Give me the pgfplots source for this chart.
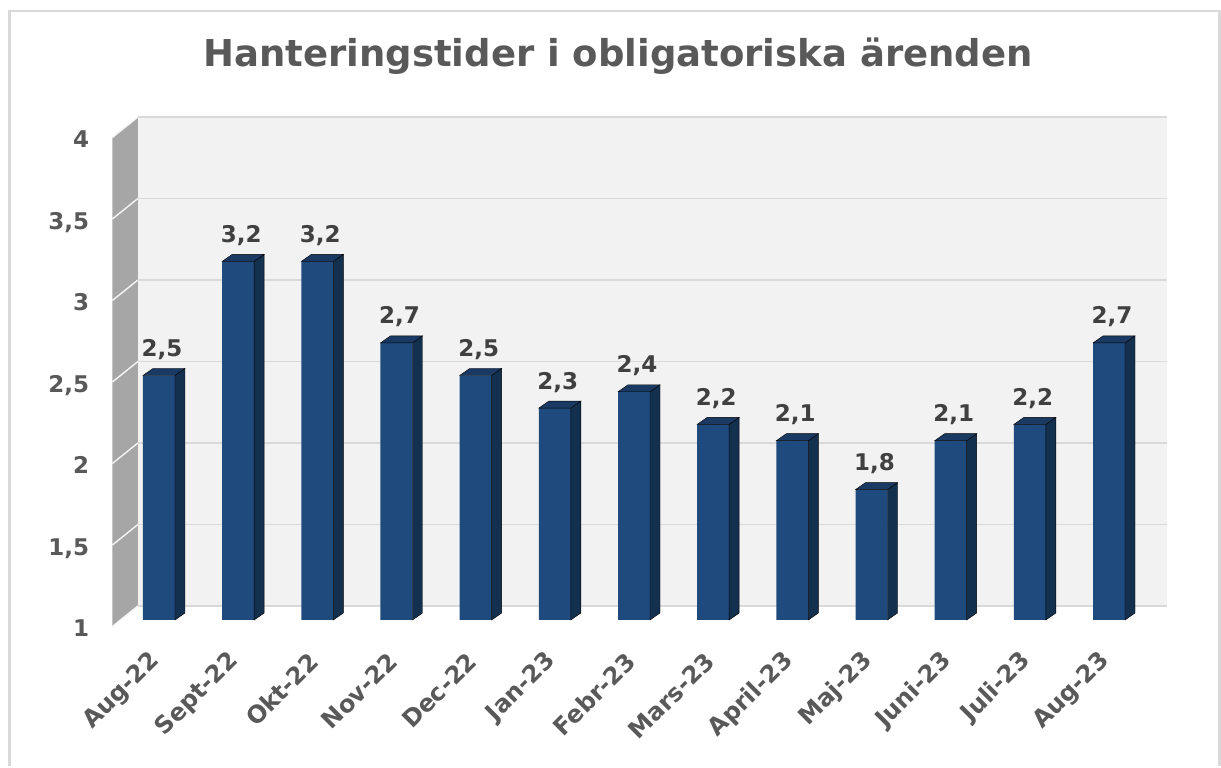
\documentclass[border=0pt]{standalone}
\usepackage{fontspec}
\setmainfont{DejaVu Sans}
\usepackage{pgfplots}
\usepackage{pgfplotstable}
\usetikzlibrary{backgrounds}
\pgfplotsset{compat=1.18}
\definecolor{barfront}{HTML}{1F4A7E}
\definecolor{barside}{HTML}{14304F}
\definecolor{bartop}{HTML}{1A3A63}
\definecolor{wall}{HTML}{F2F2F2}
\definecolor{sidewall}{HTML}{A6A6A6}
\definecolor{gridc}{HTML}{D9D9D9}
\definecolor{txt}{HTML}{595959}
\definecolor{vtxt}{HTML}{404040}
\definecolor{framec}{HTML}{D9D9D9}

\pgfplotstableread{
x y
0 2.5
1 3.2
2 3.2
3 2.7
4 2.5
5 2.3
6 2.4
7 2.2
8 2.1
9 1.8
10 2.1
11 2.2
12 2.7
}\datatable

\begin{document}
\begin{tikzpicture}[x=1pt,y=1pt]
\begin{pgfinterruptboundingbox}
\begin{axis}[
  scale only axis,
  width=1029.2pt, height=489pt,
  xmin=-0.5, xmax=12.5, ymin=1, ymax=4,
  axis line style={draw=none},
  major tick length=0pt,
  xtick={0,...,12},
  xticklabels={Aug-22,Sept-22,Okt-22,Nov-22,Dec-22,Jan-23,Febr-23,Mars-23,April-23,Maj-23,Juni-23,Juli-23,Aug-23},
  xticklabel style={yshift=-37pt, xshift=-3pt, rotate=45, anchor=east, inner sep=0pt,
    text=txt, font=\bfseries\fontsize{24}{24}\selectfont},
  ytick={1,1.5,2,2.5,3,3.5,4},
  yticklabel style={xshift=-30pt, yshift=-17pt, anchor=base east, inner sep=0pt,
    text=txt, font=\bfseries\fontsize{23}{23}\selectfont},
  /pgf/number format/use comma,
  /pgf/number format/assume math mode=true,
]
\addplot[ybar, bar width=32pt, fill=barfront, draw=none,
  nodes near coords={\pgfmathprintnumber[fixed, fixed zerofill, precision=1, use comma, assume math mode=true]{\pgfplotspointmeta}},
  nodes near coords style={anchor=base, yshift=19pt, xshift=3pt, inner sep=0pt, text=vtxt, font=\bfseries\fontsize{23}{23}\selectfont}]
  table[x=x, y=y] {\datatable};
\addplot[scatter, only marks, mark=*, mark size=0pt,
  scatter/use mapped color={draw=none, fill=none},
  visualization depends on={rawy \as \ry},
  scatter/@pre marker code/.code={%
    \pgfmathsetmacro\hh{(\ry-1)*163}%
    \fill[fill=barside] (16pt,0pt) -- (16pt,-\hh pt) -- (26pt,-\hh pt+7pt) -- (26pt,7pt) -- cycle;
    \fill[fill=bartop] (-16pt,0pt) -- (16pt,0pt) -- (26pt,7pt) -- (-6pt,7pt) -- cycle;
  },
  scatter/@post marker code/.code={}]
  table[x=x, y=y] {\datatable};
\coordinate (SW) at (axis cs:-0.5,1);
\end{axis}
\end{pgfinterruptboundingbox}
\begin{scope}[shift={(SW)}, xshift=-119.4pt, yshift=-136pt]
\path[use as bounding box] (0,0) rectangle (1221,756);
\end{scope}
\begin{scope}[on background layer, shift={(SW)}, xshift=-119.4pt, yshift=-136pt]
\fill[white] (0,0) rectangle (1221,756);
% outer frame
\draw[framec, line width=2.5pt] (9.5,-10) -- (9.5,745) -- (1219.5,745) -- (1219.5,-10);
% title
\node[anchor=base, text=txt, font=\bfseries\fontsize{37}{40}\selectfont, inner sep=0pt] at (618,689) {Hanteringstider i obligatoriska ärenden};
% side wall (left)
\fill[sidewall] (112.4,129.5) -- (137.9,150) -- (137.9,639) -- (112.4,618.5) -- cycle;
% back wall
\fill[wall] (137.9,150) rectangle (1167.1,639);
% grid lines
\foreach \v in {0,1,2,3,4,5,6} {
  \pgfmathsetmacro\yb{150+\v*81.5}
  \pgfmathsetmacro\yf{129.5+\v*81.5}
  \draw[gridc, line width=1.8pt] (137.9,\yb) -- (1167.1,\yb);
  \draw[white!92!gray, line width=1.4pt] (112.4,\yf) -- (137.9,\yb);
}
\end{scope}
\end{tikzpicture}
\end{document}
